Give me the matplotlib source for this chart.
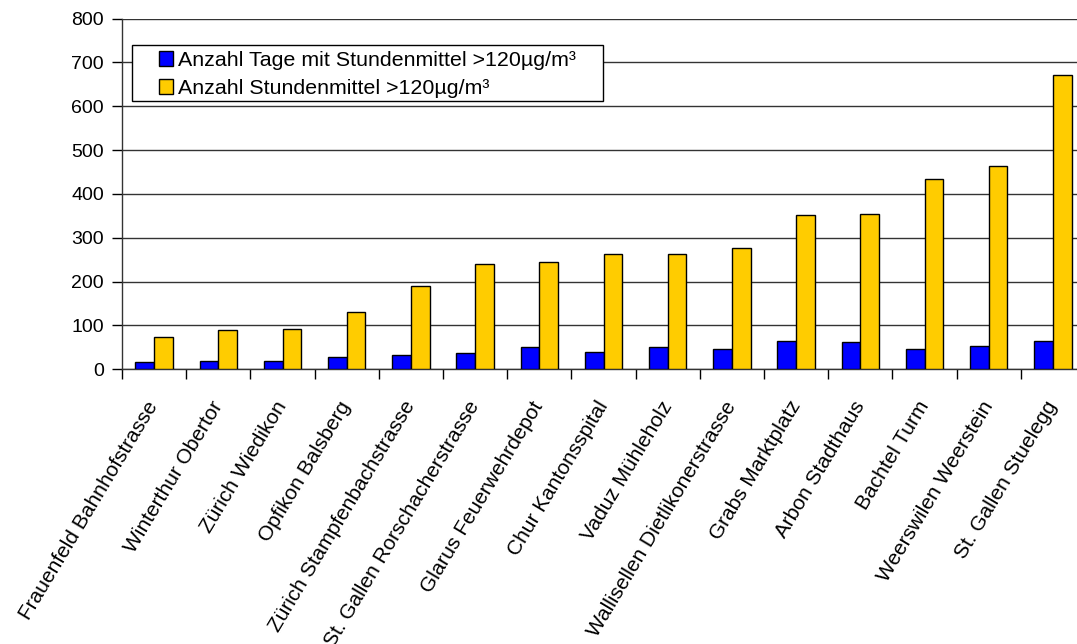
import matplotlib
matplotlib.use("Agg")
import matplotlib.pyplot as plt
from matplotlib.patches import Rectangle
import numpy as np

stations = [
    "Frauenfeld Bahnhofstrasse", "Winterthur Obertor", "Zürich Wiedikon",
    "Opfikon Balsberg", "Zürich Stampfenbachstrasse", "St. Gallen Rorschacherstrasse",
    "Glarus Feuerwehrdepot", "Chur Kantonsspital", "Vaduz Mühleholz",
    "Wallisellen Dietlikonerstrasse", "Grabs Marktplatz", "Arbon Stadthaus",
    "Bachtel Turm", "Weerswilen Weerstein", "St. Gallen Stuelegg",
]
days_over = [17, 20, 19, 27, 33, 37, 50, 40, 51, 46, 65, 63, 46, 54, 65]
hours_over = [74, 90, 93, 131, 190, 239, 244, 262, 263, 276, 352, 355, 435, 464, 672]
series_labels = ["Anzahl Tage mit Stundenmittel >120µg/m³",
                 "Anzahl Stundenmittel >120µg/m³"]
y_ticks = list(range(0, 801, 100))

plt.rcParams['font.family'] = ['Liberation Sans', 'DejaVu Sans']

W, H = 1077, 644
fig = plt.figure(figsize=(W / 100, H / 100), dpi=100)
ax = fig.add_axes([122 / W, 1 - 369.3 / H, 963 / W, 350.8 / H])

x = np.arange(len(stations))
w = 0.29
ax.bar(x - w / 2, days_over, w, color="#0000FF", edgecolor="black",
       linewidth=1, label=series_labels[0], zorder=3)
ax.bar(x + w / 2, hours_over, w, color="#FFCC00", edgecolor="black",
       linewidth=1, label=series_labels[1], zorder=3)

ax.set_xlim(-0.5, len(stations) - 0.5)
ax.set_ylim(0, 800)
ax.set_yticks(y_ticks)
ax.tick_params(axis='y', labelsize=14, length=7, width=1, direction='out', pad=6)
ax.yaxis.grid(True, color="#333333", linewidth=1, zorder=0)
ax.set_axisbelow(True)

# category labels at centers, tick marks at category boundaries
ax.set_xticks(x)
ax.set_xticklabels(stations, rotation=59, ha='right', va='center',
                   rotation_mode='anchor', fontsize=15)
ax.tick_params(axis='x', which='major', length=0, pad=24)
ax.set_xticks(np.arange(-0.5, len(stations), 1.0), minor=True)
ax.tick_params(axis='x', which='minor', length=7, width=1, direction='out')

for s in ['top', 'right']:
    ax.spines[s].set_visible(False)
for s in ['left', 'bottom']:
    ax.spines[s].set_color("#333333")
    ax.spines[s].set_linewidth(1)

# legend box with wide side margins
box = Rectangle((131.7 / W, 1 - 100.7 / H), 471 / W, 55.7 / H,
                transform=fig.transFigure, facecolor="white", edgecolor="black",
                linewidth=1, zorder=5)
fig.patches.append(box)
leg = fig.legend(loc='upper left', bbox_to_anchor=(159 / W, 1 - 51 / H),
                 fontsize=15.4, frameon=False,
                 handlelength=0.65, handleheight=0.65, handletextpad=0.25,
                 labelspacing=0.42, borderpad=0, borderaxespad=0)
leg.set_zorder(6)

fig.savefig("out.png", dpi=100)
